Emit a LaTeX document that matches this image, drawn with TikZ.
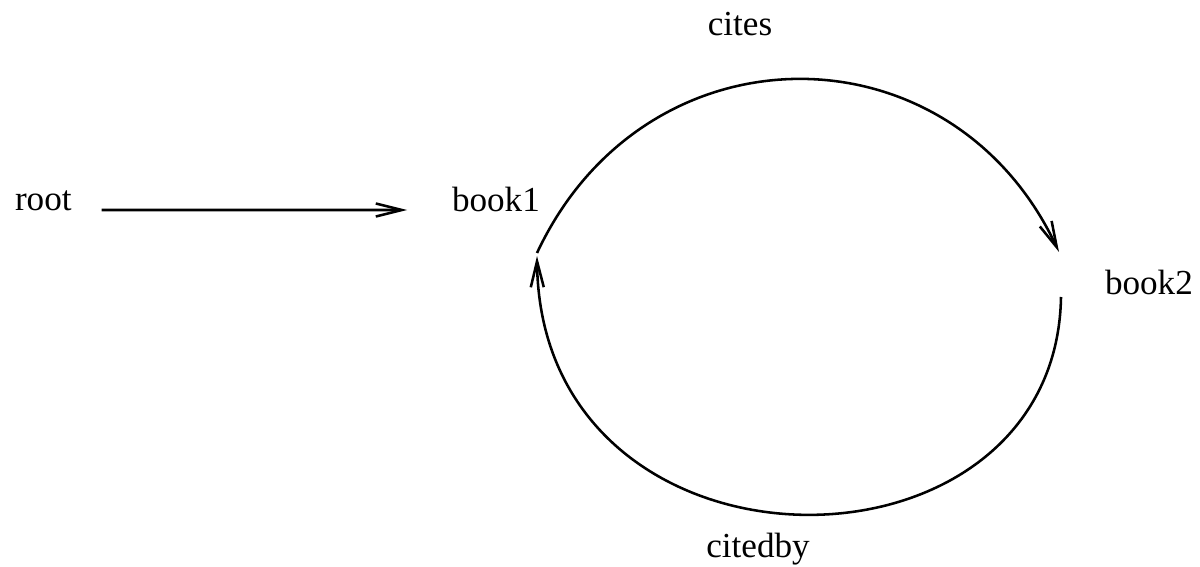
\documentclass[tikz,border=0pt]{standalone}
\usepackage{fontspec}
\setmainfont{Liberation Serif}
\usetikzlibrary{arrows.meta}
\begin{document}
\begin{tikzpicture}[x=0.02cm,y=-0.02cm,
  lbl/.style={inner sep=0pt,outer sep=0pt,font=\fontsize{20}{24}\selectfont},
  arr/.style={line width=1.45pt,-{Straight Barb[length=0.52cm,width=0.26cm,line width=1.45pt]}}]
\useasboundingbox (0,0) rectangle (1200,567);
\node[lbl,anchor=base west] (root) at (15,211) {root};
\node[lbl,anchor=base west] (book1) at (452,212) {book1};
\node[lbl,anchor=base west] (book2) at (1105,295) {book2};
\node[lbl,anchor=base] (cites) at (740,36) {cites};
\node[lbl,anchor=base] (citedby) at (758,557) {citedby};
\coordinate (u0) at (537,253);
\coordinate (u1) at (1059,252);
\coordinate (l0) at (1061,297);
\coordinate (l1) at (537,256);
\draw[arr] ([xshift=0.6cm,yshift=0.02cm]root.base east) -- ([xshift=-0.9cm,yshift=0.04cm]book1.base west);
\draw[arr] (u0) .. controls (645,22) and (951,22) .. (u1);
\draw[arr] (l0) .. controls (1056,593) and (540,593) .. (l1);
\end{tikzpicture}
\end{document}
